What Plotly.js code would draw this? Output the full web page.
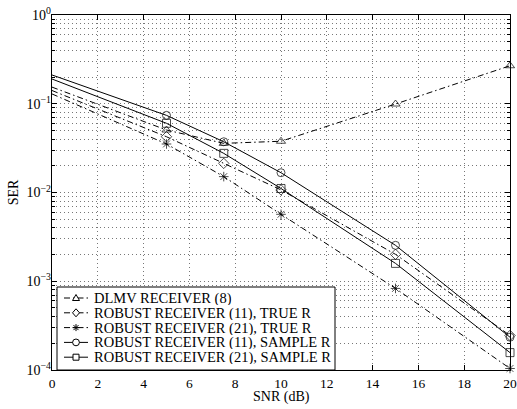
<!DOCTYPE html>
<html>
<head>
<meta charset="utf-8">
<script src="https://cdn.plot.ly/plotly-3.0.1.min.js"></script>
<style>html,body{margin:0;padding:0;background:#fff;}#chart{width:517px;height:409px;}</style>
</head>
<body>
<div id="chart"></div>
<script>
// SNR points (dB)
const snr = [0, 5, 7.5, 10, 15, 20];
// SER values
const dlmv = [0.154, 0.0506, 0.0358, 0.0378, 0.0993, 0.268];
const robust11True = [0.141, 0.0425, 0.0213, 0.0107, 0.00201, 0.000245];
const robust21True = [0.129, 0.0352, 0.0151, 0.00568, 0.00083, 0.000104];
const robust11Sample = [0.211, 0.074, 0.0373, 0.0167, 0.00254, 0.000234];
const robust21Sample = [0.190, 0.0602, 0.0276, 0.0111, 0.00159, 0.000157];
const seriesNames = [
  "DLMV RECEIVER (8)",
  "ROBUST RECEIVER (11), TRUE R",
  "ROBUST RECEIVER (21), TRUE R",
  "ROBUST RECEIVER (11), SAMPLE R",
  "ROBUST RECEIVER (21), SAMPLE R"
];
const xTicks = [0, 2, 4, 6, 8, 10, 12, 14, 16, 18, 20];
const yTickVals = [1, 0.1, 0.01, 0.001, 0.0001];
const yTickText = ["10<sup>0</sup>", "10<sup>\u22121</sup>", "10<sup>\u22122</sup>", "10<sup>\u22123</sup>", "10<sup>\u22124</sup>"];
const xTitle = "SNR (dB)";
const yTitle = "SER";

// minor log ticks (2..9 per decade) - axis positions
const yMinor = [];
for (let d = -4; d < 0; d++) for (let m = 2; m <= 9; m++) yMinor.push(m * Math.pow(10, d));

const msz = 8;
const sizes = snr.map((v, i) => i === 0 ? 0 : msz);
const dashdot = "6px,3px,1.5px,3px";
const symbols = ["triangle-up-open", "diamond-open", "asterisk-open", "circle-open", "square-open"];
const dashes = [dashdot, dashdot, dashdot, "solid", "solid"];
const series = [dlmv, robust11True, robust21True, robust11Sample, robust21Sample];

const data = series.map((y, k) => ({
  x: snr, y: y, name: seriesNames[k], type: "scatter", mode: "lines+markers",
  line: {color: "#000", width: 1, dash: dashes[k]},
  marker: {symbol: symbols[k], size: sizes, color: "#000", line: {color: "#000", width: 1}},
  cliponaxis: false, showlegend: false
}));

// plot-area geometry (pixels) for legend placement
const L = 52, R = 510, T = 15, B = 370;
const px = p => (p - L) / (R - L);
const py = p => (B - p) / (B - T);

const ff = "Liberation Serif, Times New Roman, serif";
const font = {family: ff, size: 13.5, color: "#000"};
const yfont = {family: ff, size: 14, color: "#000"};
const gridDash = "1px,3px";
const gridColor = "#777";

// manual compact legend (MATLAB style)
const shapes = [{
  type: "rect", xref: "paper", yref: "paper",
  x0: px(57), x1: px(335), y0: py(370), y1: py(287),
  fillcolor: "#fff", line: {color: "#000", width: 1}, layer: "above"
}];
const annotations = [];
const rowY = [298, 312.8, 327.6, 342.4, 357.2];
const keyPaths = [
  "M-3.5,-2.5L3.5,-2.5L0,3.5Z",
  "M0,4L3.5,0L0,-4L-3.5,0Z",
  "M-3.5,0L3.5,0M0,-3.5L0,3.5M-2.5,-2.5L2.5,2.5M-2.5,2.5L2.5,-2.5",
  null,
  "M-3,-3L3,-3L3,3L-3,3Z"
];
rowY.forEach((ry, k) => {
  shapes.push({
    type: "line", xref: "paper", yref: "paper",
    x0: px(64), x1: px(88), y0: py(ry), y1: py(ry),
    line: {color: "#000", width: 1, dash: dashes[k]}, layer: "above"
  });
  if (keyPaths[k]) {
    shapes.push({
      type: "path", xref: "paper", yref: "paper",
      xsizemode: "pixel", ysizemode: "pixel", xanchor: px(76), yanchor: py(ry),
      path: keyPaths[k], fillcolor: "#fff",
      line: {color: "#000", width: 1}, layer: "above"
    });
  } else {
    shapes.push({
      type: "circle", xref: "paper", yref: "paper",
      xsizemode: "pixel", ysizemode: "pixel", xanchor: px(76), yanchor: py(ry),
      x0: -3.4, x1: 3.4, y0: -3.4, y1: 3.4, fillcolor: "#fff",
      line: {color: "#000", width: 1}, layer: "above"
    });
  }
  annotations.push({
    xref: "paper", yref: "paper", x: px(93), y: py(ry),
    xanchor: "left", yanchor: "middle", showarrow: false, borderpad: 0,
    height: 14, valign: "middle",
    text: seriesNames[k], font: {family: ff, size: 14.5, color: "#000"}
  });
});
annotations.push({
  xref: "paper", yref: "paper", x: 0.5, y: py(397),
  xanchor: "center", yanchor: "middle", showarrow: false, borderpad: 0,
  text: xTitle, font: {family: ff, size: 14, color: "#000"}
});

const layout = {
  width: 517, height: 409,
  margin: {l: L, r: 517 - R, t: T, b: 409 - B},
  paper_bgcolor: "#fff", plot_bgcolor: "#fff",
  font: font,
  showlegend: false,
  shapes: shapes,
  annotations: annotations,
  xaxis: {
    range: [0, 20], tickvals: xTicks, ticktext: xTicks.map(String),
    ticks: "inside", ticklen: 5, tickcolor: "#000",
    showline: true, linecolor: "#000", linewidth: 1.3, mirror: "ticks",
    showgrid: true, gridcolor: gridColor, griddash: gridDash, gridwidth: 1,
    zeroline: false,
    tickfont: font
  },
  yaxis: {
    type: "log", range: [-4, 0],
    tickvals: yTickVals, ticktext: yTickText,
    ticks: "inside", ticklen: 5, tickcolor: "#000",
    showline: true, linecolor: "#000", linewidth: 1.3, mirror: "ticks",
    showgrid: true, gridcolor: gridColor, griddash: gridDash, gridwidth: 1,
    ticklabelstandoff: -3,
    minor: {tickmode: "array", tickvals: yMinor, ticks: "inside", ticklen: 3, tickcolor: "#000",
            showgrid: true, gridcolor: gridColor, griddash: gridDash, gridwidth: 1},
    zeroline: false,
    title: {text: yTitle, font: yfont, standoff: 4},
    tickfont: yfont
  }
};

Plotly.newPlot("chart", data, layout, {displayModeBar: false, staticPlot: true});
</script>
</body>
</html>
